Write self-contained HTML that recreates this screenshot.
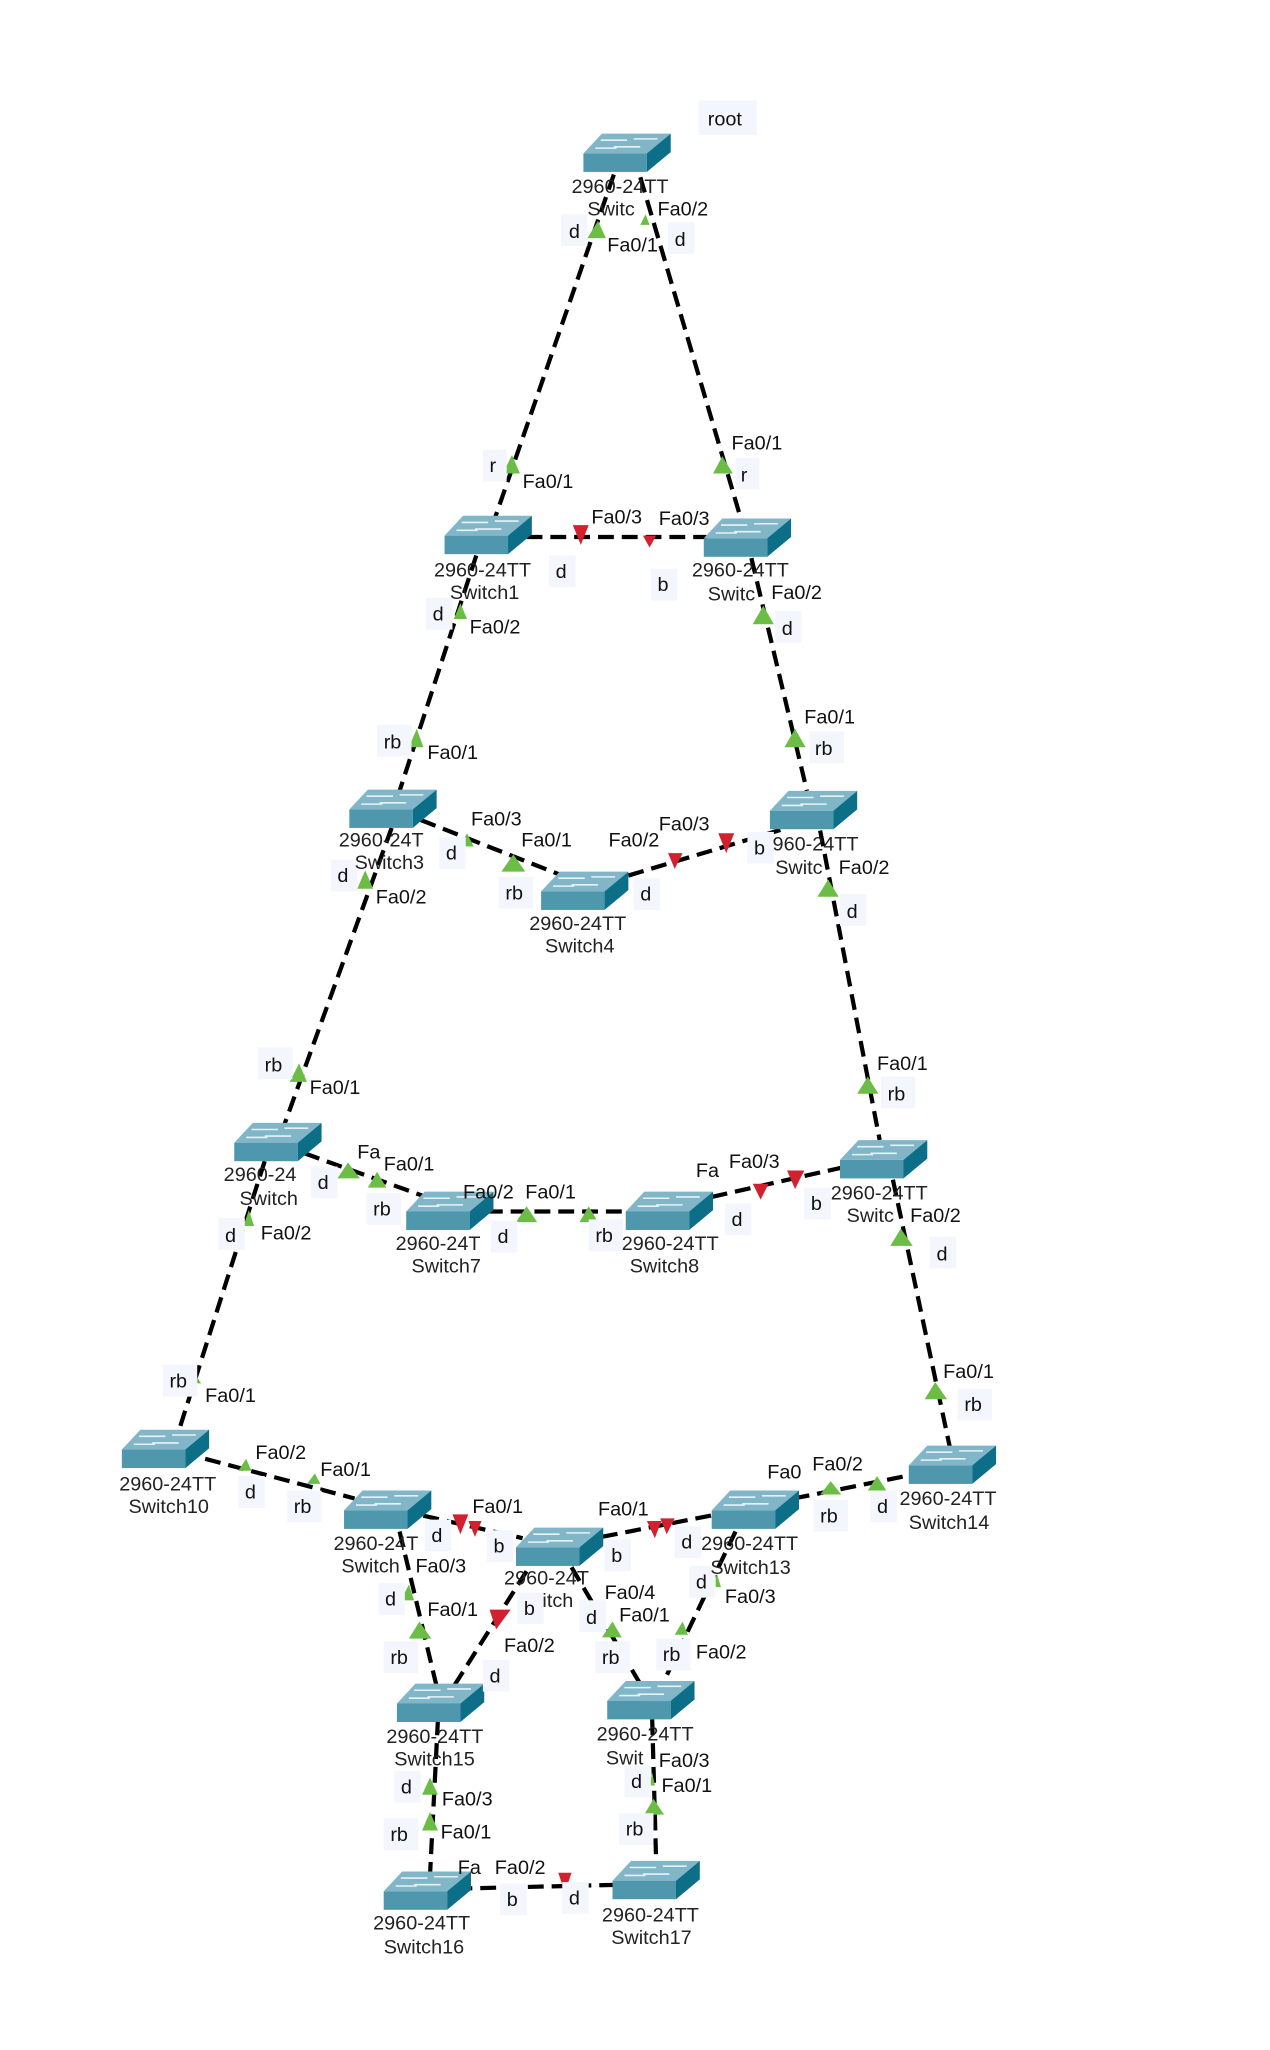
<!DOCTYPE html>
<html><head><meta charset="utf-8"><style>
html,body{margin:0;padding:0;background:#fff;}
svg{display:block}
text{font-family:"Liberation Sans",sans-serif;font-size:15px;fill:#111}
.sl{fill:#222}
.ln{stroke:#000;stroke-width:3.2;stroke-dasharray:12 6;fill:none}
.bx{fill:#f4f6fd}
.g{fill:#6cbd45}
.r{fill:#d3202f}
</style></head><body>
<svg width="1270" height="2050" viewBox="0 0 960 1550" xmlns="http://www.w3.org/2000/svg">
<defs>
<g id="sw">
<polygon points="-33,0 -19,-15 33,-15 15,0" fill="#80b6c8"/>
<rect x="-33" y="0" width="48" height="14" fill="#4f97ad"/>
<polygon points="15,0 33,-15 33,-1 15,14" fill="#0d6e88"/>
<path d="M-20,-10 h20 M-10,-5 h20 M5,-11 h18 M-24,-4 h16" stroke="#e8f2f6" stroke-width="1.2"/>
</g>
</defs>

<!-- links -->
<g class="ln">
<line x1="464" y1="132" x2="374" y2="392"/>
<line x1="484" y1="134" x2="560" y2="392"/>
<line x1="398" y1="406" x2="534" y2="406"/>
<line x1="360" y1="420" x2="302" y2="598"/>
<line x1="568" y1="422" x2="610" y2="598"/>
<line x1="318" y1="620" x2="425" y2="662"/>
<line x1="475" y1="662" x2="595" y2="626"/>
<line x1="296" y1="626" x2="215" y2="850"/>
<line x1="620" y1="628" x2="665" y2="862"/>
<line x1="230" y1="872" x2="322" y2="905"/>
<line x1="368" y1="916" x2="482" y2="916"/>
<line x1="538" y1="905" x2="640" y2="882"/>
<line x1="200" y1="878" x2="135" y2="1082"/>
<line x1="675" y1="892" x2="718" y2="1094"/>
<line x1="155" y1="1103" x2="268" y2="1133"/>
<line x1="320" y1="1146" x2="395" y2="1163"/>
<line x1="455" y1="1162" x2="542" y2="1145"/>
<line x1="600" y1="1133" x2="690" y2="1115"/>
<line x1="302" y1="1158" x2="330" y2="1275"/>
<line x1="398" y1="1188" x2="343" y2="1275"/>
<line x1="432" y1="1185" x2="485" y2="1275"/>
<line x1="556" y1="1158" x2="500" y2="1275"/>
<line x1="331" y1="1300" x2="325" y2="1418"/>
<line x1="493" y1="1300" x2="496" y2="1408"/>
<line x1="345" y1="1428" x2="470" y2="1425"/>
</g>

<!-- markers -->
<g class="g">
<polygon points="444,180 452,167 458,180"/>
<polygon points="484,170 488,162 491,170"/>
<polygon points="380,358 387,344 393,358"/>
<polygon points="539,358 546,345 554,358"/>
<polygon points="343,468 348,456 353,468"/>
<polygon points="569,472 577,458 585,472"/>
<polygon points="309,565 315,551 320,565"/>
<polygon points="593,565 601,551 609,565"/>
<polygon points="348,640 353,630 358,640"/>
<polygon points="379,659 388,646 397,659"/>
<polygon points="270,672 276,658 282,672"/>
<polygon points="618,678 626,665 634,678"/>
<polygon points="219,818 226,804 232,818"/>
<polygon points="648,827 656,814 664,827"/>
<polygon points="255,891 263,879 272,891"/>
<polygon points="278,898 285,886 292,898"/>
<polygon points="184,927 188,915 192,927"/>
<polygon points="390,924 398,912 406,924"/>
<polygon points="438,924 445,912 452,924"/>
<polygon points="673,942 681,929 690,942"/>
<polygon points="144,1046 148,1040 152,1046"/>
<polygon points="699,1058 707,1045 716,1058"/>
<polygon points="180,1112 186,1103 190,1112"/>
<polygon points="232,1122 238,1114 242,1122"/>
<polygon points="620,1130 628,1120 636,1130"/>
<polygon points="656,1127 663,1116 670,1127"/>
<polygon points="303,1210 309,1198 313,1210"/>
<polygon points="309,1239 317,1226 326,1239"/>
<polygon points="455,1238 463,1226 470,1238"/>
<polygon points="510,1236 516,1226 520,1236"/>
<polygon points="539,1200 542,1190 545,1200"/>
<polygon points="319,1357 325,1344 331,1357"/>
<polygon points="319,1384 325,1370 331,1384"/>
<polygon points="487,1372 494,1360 502,1372"/>
<polygon points="491,1350 493,1340 495,1350"/>
</g>
<g class="r">
<polygon points="433,397 445,397 439,412"/>
<polygon points="486,405 496,405 491,414"/>
<polygon points="505,645 516,645 510,657"/>
<polygon points="543,630 555,630 549,645"/>
<polygon points="569,895 581,895 575,907"/>
<polygon points="595,885 608,885 601,899"/>
<polygon points="342,1145 354,1145 348,1160"/>
<polygon points="354,1150 364,1150 359,1162"/>
<polygon points="489,1150 500,1150 495,1163"/>
<polygon points="499,1148 510,1148 504,1160"/>
<polygon points="370,1217 386,1217 375,1232"/>
<polygon points="422,1416 432,1416 427,1431"/>
</g>

<!-- switches -->
<use href="#sw" x="474" y="116"/>
<use href="#sw" x="369" y="405"/>
<use href="#sw" x="565" y="407"/>
<use href="#sw" x="297" y="612"/>
<use href="#sw" x="442" y="674"/>
<use href="#sw" x="615" y="613"/>
<use href="#sw" x="210" y="864"/>
<use href="#sw" x="340" y="916"/>
<use href="#sw" x="506" y="916"/>
<use href="#sw" x="668" y="877"/>
<use href="#sw" x="125" y="1096"/>
<use href="#sw" x="293" y="1142"/>
<use href="#sw" x="423" y="1170"/>
<use href="#sw" x="571" y="1142"/>
<use href="#sw" x="720" y="1108"/>
<use href="#sw" x="333" y="1288"/>
<use href="#sw" x="492" y="1286"/>
<use href="#sw" x="323" y="1430"/>
<use href="#sw" x="496" y="1422"/>

<!-- role boxes -->
<g class="bx">
<rect x="528" y="76" width="44" height="26"/>
<rect x="424" y="162" width="20" height="24"/>
<rect x="505" y="168" width="20" height="24"/>
<rect x="365" y="340" width="18" height="24"/>
<rect x="556" y="346" width="18" height="24"/>
<rect x="415" y="420" width="20" height="24"/>
<rect x="492" y="430" width="20" height="24"/>
<rect x="322" y="452" width="20" height="24"/>
<rect x="586" y="462" width="20" height="24"/>
<rect x="285" y="548" width="26" height="24"/>
<rect x="612" y="553" width="26" height="24"/>
<rect x="332" y="633" width="20" height="24"/>
<rect x="250" y="650" width="20" height="24"/>
<rect x="377" y="663" width="26" height="24"/>
<rect x="479" y="664" width="20" height="24"/>
<rect x="565" y="629" width="20" height="24"/>
<rect x="635" y="676" width="20" height="24"/>
<rect x="195" y="792" width="26" height="24"/>
<rect x="666" y="814" width="26" height="24"/>
<rect x="235" y="882" width="20" height="24"/>
<rect x="277" y="902" width="26" height="24"/>
<rect x="165" y="921" width="20" height="24"/>
<rect x="371" y="923" width="20" height="24"/>
<rect x="445" y="922" width="26" height="24"/>
<rect x="548" y="910" width="20" height="24"/>
<rect x="608" y="898" width="20" height="24"/>
<rect x="703" y="935" width="20" height="24"/>
<rect x="123" y="1032" width="26" height="24"/>
<rect x="724" y="1050" width="26" height="24"/>
<rect x="180" y="1116" width="20" height="24"/>
<rect x="217" y="1127" width="26" height="24"/>
<rect x="321" y="1149" width="20" height="24"/>
<rect x="368" y="1157" width="20" height="24"/>
<rect x="457" y="1164" width="20" height="24"/>
<rect x="510" y="1154" width="20" height="24"/>
<rect x="615" y="1134" width="26" height="24"/>
<rect x="658" y="1127" width="20" height="24"/>
<rect x="286" y="1197" width="20" height="24"/>
<rect x="391" y="1204" width="20" height="24"/>
<rect x="438" y="1210" width="20" height="24"/>
<rect x="521" y="1184" width="20" height="24"/>
<rect x="290" y="1241" width="26" height="24"/>
<rect x="365" y="1255" width="20" height="24"/>
<rect x="450" y="1241" width="26" height="24"/>
<rect x="496" y="1239" width="26" height="24"/>
<rect x="298" y="1339" width="20" height="24"/>
<rect x="290" y="1375" width="26" height="24"/>
<rect x="472" y="1335" width="20" height="24"/>
<rect x="468" y="1371" width="26" height="24"/>
<rect x="378" y="1424" width="20" height="24"/>
<rect x="425" y="1423" width="20" height="24"/>
</g>

<!-- texts -->
<text x="535" y="95">root</text>
<text class="sl" x="432" y="146">2960-24TT</text><text class="sl" x="444" y="163">Switc</text>
<text x="497" y="163">Fa0/2</text><text x="430" y="180">d</text><text x="459" y="190">Fa0/1</text><text x="510" y="186">d</text>
<text x="370" y="357">r</text><text x="395" y="369">Fa0/1</text><text x="553" y="340">Fa0/1</text><text x="560" y="364">r</text>
<text x="447" y="396">Fa0/3</text><text x="498" y="397">Fa0/3</text><text x="420" y="437">d</text><text x="497" y="447">b</text>
<text class="sl" x="328" y="436">2960-24TT</text><text class="sl" x="340" y="453">Switch1</text>
<text x="327" y="469">d</text><text x="355" y="479">Fa0/2</text>
<text class="sl" x="523" y="436">2960-24TT</text><text class="sl" x="535" y="454">Switc</text>
<text x="583" y="453">Fa0/2</text><text x="591" y="480">d</text>
<text x="290" y="566">rb</text><text x="323" y="574">Fa0/1</text><text x="608" y="547">Fa0/1</text><text x="616" y="571">rb</text>
<text class="sl" x="256" y="640">2960-24T</text><text class="sl" x="268" y="657">Switch3</text>
<text x="356" y="624">Fa0/3</text><text x="337" y="650">d</text><text x="394" y="640">Fa0/1</text>
<text x="255" y="667">d</text><text x="284" y="683">Fa0/2</text><text x="382" y="680">rb</text>
<text class="sl" x="400" y="703">2960-24TT</text><text class="sl" x="412" y="720">Switch4</text>
<text x="484" y="681">d</text><text x="460" y="640">Fa0/2</text><text x="498" y="628">Fa0/3</text><text x="570" y="646">b</text>
<text class="sl" x="584" y="643">960-24TT</text><text class="sl" x="586" y="661">Switc</text>
<text x="634" y="661">Fa0/2</text><text x="640" y="694">d</text>
<text x="200" y="810">rb</text><text x="234" y="827">Fa0/1</text><text x="663" y="809">Fa0/1</text><text x="671" y="832">rb</text>
<text class="sl" x="169" y="893">2960-24</text><text class="sl" x="181" y="911">Switch</text>
<text x="270" y="876">Fa</text><text x="240" y="899">d</text><text x="290" y="885">Fa0/1</text><text x="282" y="919">rb</text>
<text x="170" y="939">d</text><text x="197" y="937">Fa0/2</text>
<text class="sl" x="299" y="945">2960-24T</text><text class="sl" x="311" y="962">Switch7</text>
<text x="350" y="906">Fa0/2</text><text x="397" y="906">Fa0/1</text><text x="376" y="940">d</text><text x="450" y="939">rb</text>
<text class="sl" x="470" y="945">2960-24TT</text><text class="sl" x="476" y="962">Switch8</text>
<text x="553" y="927">d</text><text x="526" y="890">Fa</text><text x="551" y="883">Fa0/3</text><text x="613" y="915">b</text>
<text class="sl" x="628" y="907">2960-24TT</text><text class="sl" x="640" y="924">Switc</text>
<text x="688" y="924">Fa0/2</text><text x="708" y="953">d</text>
<text x="128" y="1049">rb</text><text x="155" y="1060">Fa0/1</text><text x="713" y="1042">Fa0/1</text><text x="729" y="1067">rb</text>
<text class="sl" x="90" y="1127">2960-24TT</text><text class="sl" x="97" y="1144">Switch10</text>
<text x="193" y="1103">Fa0/2</text><text x="185" y="1133">d</text><text x="242" y="1116">Fa0/1</text><text x="222" y="1144">rb</text>
<text class="sl" x="252" y="1172">2960-24T</text><text class="sl" x="258" y="1189">Switch</text>
<text x="314" y="1189">Fa0/3</text><text x="326" y="1166">d</text><text x="357" y="1144">Fa0/1</text><text x="373" y="1174">b</text>
<text x="291" y="1214">d</text><text x="323" y="1222">Fa0/1</text><text x="295" y="1258">rb</text>
<text class="sl" x="381" y="1198">2960-24T</text><text class="sl" x="410" y="1215">itch</text>
<text x="452" y="1146">Fa0/1</text><text x="462" y="1181">b</text><text x="457" y="1209">Fa0/4</text>
<text x="443" y="1228">d</text><text x="468" y="1226">Fa0/1</text><text x="396" y="1221">b</text>
<text x="381" y="1249">Fa0/2</text><text x="370" y="1272">d</text><text x="455" y="1258">rb</text>
<text x="515" y="1171">d</text><text class="sl" x="530" y="1172">2960-24TT</text><text class="sl" x="537" y="1190">Switch13</text>
<text x="526" y="1201">d</text><text x="548" y="1212">Fa0/3</text><text x="580" y="1118">Fa0</text><text x="614" y="1112">Fa0/2</text>
<text x="620" y="1151">rb</text><text x="663" y="1144">d</text><text x="501" y="1256">rb</text><text x="526" y="1254">Fa0/2</text>
<text class="sl" x="680" y="1138">2960-24TT</text><text class="sl" x="687" y="1156">Switch14</text>
<text class="sl" x="292" y="1318">2960-24TT</text><text class="sl" x="298" y="1335">Switch15</text>
<text x="303" y="1356">d</text><text x="334" y="1365">Fa0/3</text><text x="295" y="1392">rb</text><text x="333" y="1390">Fa0/1</text>
<text class="sl" x="451" y="1316">2960-24TT</text><text class="sl" x="458" y="1334">Swit</text>
<text x="498" y="1336">Fa0/3</text><text x="477" y="1352">d</text><text x="500" y="1355">Fa0/1</text><text x="473" y="1388">rb</text>
<text class="sl" x="282" y="1459">2960-24TT</text><text class="sl" x="290" y="1477">Switch16</text>
<text x="346" y="1417">Fa</text><text x="374" y="1417">Fa0/2</text><text x="383" y="1441">b</text><text x="430" y="1440">d</text>
<text class="sl" x="455" y="1453">2960-24TT</text><text class="sl" x="462" y="1470">Switch17</text>
</svg>
</body></html>
